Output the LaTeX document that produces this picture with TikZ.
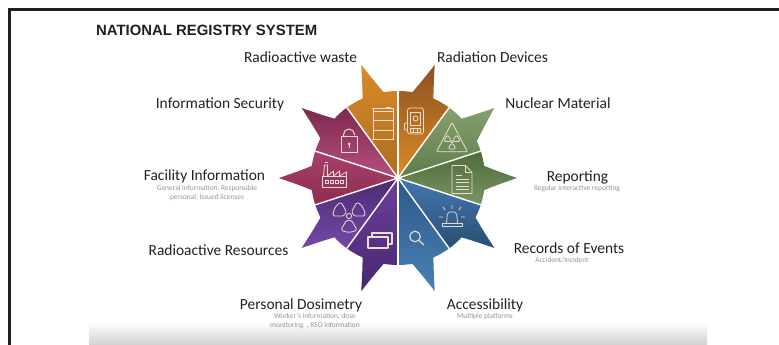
\documentclass[tikz,border=0pt]{standalone}
\usepackage{fontspec}
\setmainfont{Carlito}
\newfontfamily\titlefont{Liberation Sans}
\usetikzlibrary{calc}
\definecolor{iconline}{HTML}{EADFD4}
\definecolor{subgray}{HTML}{949494}
\definecolor{labelink}{HTML}{222222}
\definecolor{barink}{HTML}{231F20}
\newcommand{\petal}[7]{%
  % #1 start, #2 first base, #3 tip angle, #4 second base, #5 end, #6 top colour, #7 bottom colour
  \definecolor{petaltop}{HTML}{#6}\definecolor{petalbot}{HTML}{#7}%
  \pgfmathsetmacro{\baseA}{#2-1}%
  \pgfmathsetmacro{\baseB}{#4+1}%
  \pgfmathsetmacro{\ctrlA}{\baseA+0.5*(#3-\baseA)}%
  \pgfmathsetmacro{\ctrlB}{\baseB+0.5*(#3-\baseB)}%
  \shade[top color=petaltop,bottom color=petalbot]
    (center) -- ($(center)+(#1:87)$) arc[start angle=#1,end angle=\baseA,radius=87]
    .. controls ($(center)+(\ctrlA:99.5)$) .. ($(center)+(#3:119)$)
    .. controls ($(center)+(\ctrlB:99.5)$) .. ($(center)+(\baseB:87)$)
    arc[start angle=\baseB,end angle=#5,radius=87] -- cycle;
}
\tikzset{
  x=1pt,y=1pt,
  head/.style={font=\fontsize{15.45}{18}\selectfont,text=labelink,inner sep=0pt},
  subhead/.style={font=\fontsize{7.4}{9}\selectfont,text=subgray,inner sep=0pt,align=center},
  icon/.style={draw=iconline,line width=0.8pt,line join=round},
  divider/.style={draw=white,line width=1.4pt}
}
\begin{document}
\begin{tikzpicture}
\useasboundingbox (0,0) rectangle (779,345);
\fill[white] (0,0) rectangle (779,345);
\shade[top color=white,bottom color=black!18] (89,0) rectangle (707,23);
\fill[barink] (8,345-8) rectangle (779,345-11);
\fill[barink] (8,0) rectangle (11,345-8);
\coordinate (center) at (398,167);
\node[font=\titlefont\bfseries\fontsize{14.9}{17}\selectfont,text=barink,inner sep=0pt,anchor=west] (title) at (96,315) {NATIONAL REGISTRY SYSTEM};

\petal{90}{100.5}{108}{113}{126}{D98A28}{AE6C20}
\petal{54}{67}{72}{79.5}{90}{8A5220}{DF8A26}
\petal{18}{26}{36}{42}{54}{84A06C}{5E7C4A}
\petal{-18}{-7}{0}{7}{18}{4F6A3B}{7A9664}
\petal{-54}{-42}{-36}{-28}{-18}{4378B0}{294E72}
\petal{-90}{-79.5}{-72}{-67}{-54}{2A5A86}{4A80B6}
\petal{234}{247}{252}{259.5}{270}{6E3F9E}{46286E}
\petal{198}{208}{216}{222}{234}{4A2B70}{7549AB}
\petal{162}{173}{180}{187}{198}{A83F6E}{8E2E4E}
\petal{126}{138}{144}{152}{162}{7C2A50}{B84F7E}

\foreach \a in {90,54,18,-18,-54,-90,234,198,162,126}
  \draw[divider] (center) -- ($(center)+(\a:87)$);

% barrel
\begin{scope}[shift={(383,221.5)}]
  \draw[icon] (-10,-15.5) rectangle (10,15);
  \draw[icon] (-11,15) -- (11,15) (-11,-15.5) -- (11,-15.5) (-10,3) -- (10,3) (-10,-7) -- (10,-7) (-10,12.5) -- (10,12.5);
  \draw[icon] (3,15) -- (3,16.5) -- (7,16.5) -- (7,15);
\end{scope}
% total station
\begin{scope}[shift={(415.5,224)}]
  \draw[icon,rounded corners=2.5pt] (-8,-13) rectangle (8,13);
  \draw[icon] (-5,-4) rectangle (5,9);
  \draw[icon] (0,2.5) circle (2.5);
  \draw[icon] (-5,-11) rectangle (5,-7);
  \draw[icon] (-1.7,-11) -- (-1.7,-7) (1.7,-11) -- (1.7,-7);
  \draw[icon,rounded corners=1pt] (-8,-2) -- (-11,-2) -- (-11,-9) -- (-8,-9);
\end{scope}
% radiation triangle
\begin{scope}[shift={(452,208)}]
  \draw[icon,rounded corners=1pt] (0,14.5) -- (15.5,-14.7) -- (-15.5,-14.7) -- cycle;
  \draw[icon] (0,-4.7) circle (1.3);
  \foreach \r in {30,150,270}
    \draw[icon,rounded corners=0.8pt] ($(0,-4.7)+(\r-28:2.5)$) -- ($(0,-4.7)+(\r-28:7.5)$) arc[start angle=\r-28,end angle=\r+28,radius=7.5] -- ($(0,-4.7)+(\r+28:2.5)$) -- cycle;
\end{scope}
% document
\begin{scope}[shift={(462,165.5)}]
  \draw[icon] (-10,-14) -- (10,-14) -- (10,7) -- (3.5,14) -- (-10,14) -- cycle;
  \draw[icon] (3.5,14) -- (3.5,7) -- (10,7);
  \draw[icon] (-6.5,4) -- (0,4) (-6.5,0.5) -- (6.5,0.5) (-6.5,-3) -- (6.5,-3) (-6.5,-6.5) -- (6.5,-6.5) (-6.5,-10) -- (6.5,-10);
\end{scope}
% beacon
\begin{scope}[shift={(452,127)}]
  \draw[icon,rounded corners=2pt] (-5.5,-5) -- (-4.5,6) -- (4.5,6) -- (5.5,-5);
  \draw[icon] (-10,-5) rectangle (10,-8.5);
  \draw[icon] (0,9) -- (0,13) (-7,8) -- (-9,11) (7,8) -- (9,11) (-9,1) -- (-13,1) (9,1) -- (13,1);
\end{scope}
% magnifier
\begin{scope}[shift={(417,108)}]
  \draw[icon,line width=1.1pt] (-2,0.5) circle (5.3);
  \draw[icon,line width=1.2pt] (2,-3.5) -- (7,-8);
\end{scope}
% windows
\begin{scope}[shift={(379,104)}]
  \draw[icon,line width=1.1pt] (-11,-7) rectangle (9,4);
  \draw[icon,line width=1.1pt] (-7,4) -- (-7,8) -- (13,8) -- (13,-3) -- (9,-3);
\end{scope}
% radiation
\begin{scope}[shift={(349,129)}]
  \draw[icon] (0,0) circle (2.6);
  \foreach \r in {30,150,270}
    \draw[icon,rounded corners=1.5pt] (\r-30:5) -- (\r-30:16) arc[start angle=\r-30,end angle=\r+30,radius=16] -- (\r+30:5) -- cycle;
\end{scope}
% factory
\begin{scope}[shift={(334.5,170)}]
  \draw[icon] (-12,-12) rectangle (12,-1);
  \draw[icon] (-7,-1) -- (-7,10) (-11,-1) -- (-10,10) -- (-7,10);
  \draw[icon] (-7,-1) -- (-1,4) -- (-1,-1) -- (5,4) -- (5,-1) -- (12,3) -- (12,-1);
  \draw[icon] (-10,12.5) -- (-7,12.5);
  \foreach \x in {-9.5,-4.5,0.5,5.5}
    \draw[icon] (\x,-8.5) rectangle ++(3.5,3.5);
\end{scope}
% lock
\begin{scope}[shift={(349,201)}]
  \draw[icon,line width=1pt] (-8,-9) rectangle (8,7);
  \draw[icon,line width=1pt] (-5.5,7) -- (-5.5,9.5) arc[start angle=180,end angle=0,radius=5.5] -- (5.5,8.5);
  \fill[iconline] (0,0) circle (1.5);
  \draw[iconline,line width=1pt] (0,0) -- (0,-4);
\end{scope}

\node[head] (waste) at (300.5,288) {Radioactive waste};
\node[head] (devices) at (492.5,288) {Radiation Devices};
\node[head] (nuclear) at (558,242) {Nuclear Material};
\node[head] (security) at (220,241) {Information Security};
\node[head] (facility) at (204.5,169) {Facility Information};
\node[subhead] (facilitysub) at (207,151.5) {General information, Responsible\\personal, Issued licenses};
\node[head] (resources) at (218.5,95) {Radioactive Resources};
\node[head] (dosimetry) at (301,40) {Personal Dosimetry};
\node[subhead] (dosimetrysub) at (315,23.5) {Worker's information, dose\\monitoring\ \ , RSO information};
\node[head] (access) at (485,40) {Accessibility};
\node[subhead] (accesssub) at (485,28) {Multiple platforms};
\node[head] (report) at (577.5,168) {Reporting};
\node[subhead] (reportsub) at (577,156) {Regular interactive reporting};
\node[head] (events) at (569,97) {Records of Events};
\node[subhead] (eventssub) at (562,85) {Accident/Incident};
\end{tikzpicture}
\end{document}
